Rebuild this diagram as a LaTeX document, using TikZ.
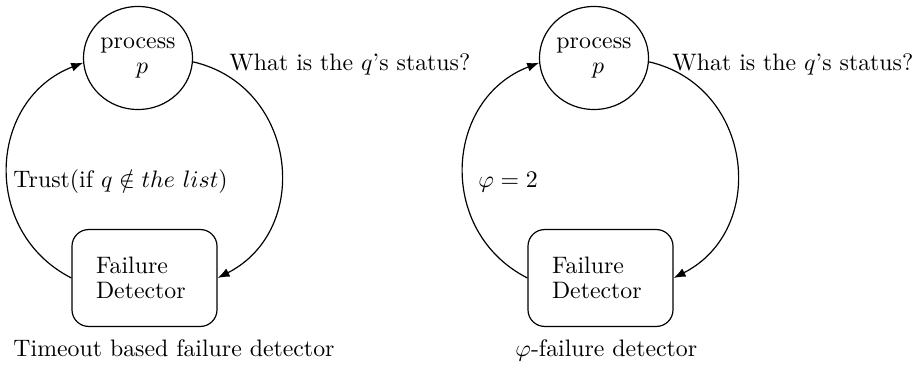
\documentclass[tikz,border=0pt]{standalone}
\usetikzlibrary{arrows.meta,shapes.geometric}
\begin{document}
\begin{tikzpicture}[x=0.42pt,y=0.42pt,
  every node/.style={font=\fontsize{10}{10.5}\selectfont},
  proc/.style={draw,ellipse,line width=0.5pt,minimum width=45.8pt,minimum height=43.3pt,inner sep=0pt,align=center},
  fdbox/.style={draw,rounded corners=7pt,line width=0.5pt,minimum width=60.9pt,minimum height=40.7pt,text width=40.7pt,inner sep=0pt,align=left},
  lbl/.style={anchor=base west,inner sep=0pt},
  flow/.style={line width=0.5pt,-{Latex[length=5pt,width=3.8pt]}}]
\useasboundingbox (0,0) rectangle (919,369);
% left diagram
\node[proc] (P1) at (138,311) {process\\\hspace*{3.5pt}$p$};
\node[fdbox] (D1) at (144.5,91) {Failure\\Detector};
\draw[flow] (P1.-4) .. controls +(-13:107) and +(27:107) .. (D1.east);
\draw[flow] (D1.west) .. controls +(153:102) and +(201:102) .. (P1.185);
\node[lbl] (Q1) at (229,298) {What is the $q$'s status?};
\node[lbl] (T1) at (13,181) {Trust(if $q\notin the\ list$)};
\node[lbl] (C1) at (13,12.5) {Timeout based failure detector};
% right diagram
\node[proc] (P2) at (594,311) {process\\\hspace*{3.5pt}$p$};
\node[fdbox] (D2) at (600.5,91) {Failure\\Detector};
\draw[flow] (P2.-4) .. controls +(-13:107) and +(27:107) .. (D2.east);
\draw[flow] (D2.west) .. controls +(153:102) and +(201:102) .. (P2.185);
\node[lbl] (Q2) at (672,298) {What is the $q$'s status?};
\node[lbl] (F2) at (478,181) {$\varphi=2$};
\node[lbl] (C2) at (515,12.5) {$\varphi$-failure detector};
\end{tikzpicture}
\end{document}
